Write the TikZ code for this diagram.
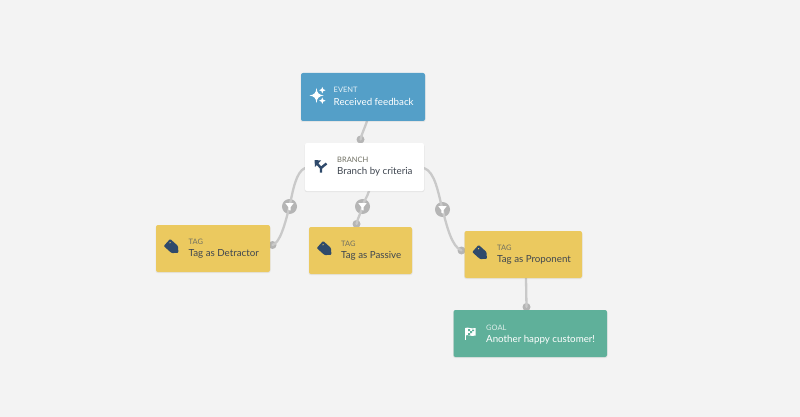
\documentclass[tikz,border=0pt]{standalone}
\usepackage{fontspec}
\setmainfont{Lato}
\definecolor{canvas}{HTML}{F3F3F3}
\definecolor{eventblue}{HTML}{549FC8}
\definecolor{tagyellow}{HTML}{EBC95F}
\definecolor{goalgreen}{HTML}{5FB09A}
\definecolor{wire}{HTML}{C9C9C9}
\definecolor{dotgrey}{HTML}{B5B5B5}
\definecolor{navy}{HTML}{2F4A6B}
\definecolor{ink}{HTML}{3F4650}
\definecolor{inksoft}{HTML}{6F6F62}
\tikzset{
  x=1pt,y=-1pt,
  card/.style={rounded corners=2pt,inner sep=0pt,fill=#1},
  wirepath/.style={draw=wire,line width=2.3pt,line cap=round},
  portdot/.style={circle,fill=dotgrey,minimum size=8pt,inner sep=0pt},
  filterdot/.style={circle,fill=dotgrey,minimum size=15pt,inner sep=0pt},
  kindtext/.style={anchor=west,inner sep=0pt,font=\fontsize{7.5}{9}\selectfont},
  nametext/.style={anchor=west,inner sep=0pt,font=\fontsize{9.75}{12}\selectfont},
}
% Rounded card given by its corners
\newcommand{\cardbox}[6]{%
  \fill[black,opacity=.06,rounded corners=2pt] (#3-.5,#4+1) rectangle (#5+.5,#6+1);
  \path[card=#2] (#3,#4) rectangle (#5,#6);
  \node[minimum width=#5pt-#3pt,minimum height=#6pt-#4pt,inner sep=0pt] (#1) at ({(#3+#5)/2},{(#4+#6)/2}) {};
}
% Price-tag icon centred on a point
\newcommand{\tagicon}[2]{%
  \begin{scope}[shift={(#1,#2)},rotate=-42]
    \fill[navy,rounded corners=1pt] (-7.5,-4.8) -- (3,-4.8) -- (8,0) -- (3,4.8) -- (-7.5,4.8) -- cycle;
    \fill[tagyellow] (-5,-2) circle (.8);
  \end{scope}
}
% Funnel glyph for a filter condition
\newcommand{\funnel}[2]{%
  \fill[white,shift={(#1,#2)}] (-4.2,-3.4) -- (4.2,-3.4) -- (1.1,.6) -- (1.1,4) -- (-1.1,3.2) -- (-1.1,.6) -- cycle;
}
\begin{document}
\begin{tikzpicture}
\useasboundingbox (0,0) rectangle (800,417);
\fill[canvas] (0,0) rectangle (800,417);

% Connector end points
\coordinate (evout) at (367,121);
\coordinate (brleft) at (305,168);
\coordinate (brmid) at (369,191);
\coordinate (brright) at (424,168);
\coordinate (propout) at (526,278);
\node[portdot] (dotbranch) at (360.5,139.5) {};
\node[portdot] (dotdet) at (272.5,245) {};
\node[portdot] (dotpas) at (356.5,224) {};
\node[portdot] (dotpro) at (461.5,250.5) {};
\node[portdot] (dotgoal) at (526.5,307) {};
\node[filterdot] (fdet) at (289.5,206.5) {};
\node[filterdot] (fpas) at (362.5,206.5) {};
\node[filterdot] (fpro) at (442.5,209.5) {};

% Connectors
\draw[wirepath] (evout) .. controls (364,130) and (362,133) .. (dotbranch.center);
\draw[wirepath] (brleft) .. controls (296,172) and (293,190) .. (fdet.center)
                .. controls (285,224) and (280,243) .. (dotdet.center);
\draw[wirepath] (brmid) .. controls (367,198) and (364,200) .. (fpas.center)
                .. controls (361,213) and (358,217) .. (dotpas.center);
\draw[wirepath] (brright) .. controls (435,172) and (438,192) .. (fpro.center)
                .. controls (447,227) and (452,247) .. (dotpro.center);
\draw[wirepath] (propout) -- (dotgoal.center);

% Cards
\cardbox{event}{eventblue}{301}{73}{425}{121}
\cardbox{branch}{white}{305}{143}{424}{191}
\cardbox{detractor}{tagyellow}{156}{225}{270}{272}
\cardbox{passive}{tagyellow}{309}{227}{412}{274}
\cardbox{proponent}{tagyellow}{464.5}{231}{582}{278}
\cardbox{goal}{goalgreen}{453.5}{310}{607}{357}

% Card labels
\node[kindtext,text=white!85!eventblue] (evk) at (333.5,89.6) {EVENT};
\node[nametext,text=white] (evn) at (333.5,101.8) {Received feedback};
\node[kindtext,text=inksoft] (brk) at (337,159.6) {BRANCH};
\node[nametext,text=ink] (brn) at (337,171.8) {Branch by criteria};
\node[kindtext,text=inksoft] (detk) at (188.5,241.6) {TAG};
\node[nametext,text=ink] (detn) at (188.5,254) {Tag as Detractor};
\node[kindtext,text=inksoft] (pask) at (341,243.6) {TAG};
\node[nametext,text=ink] (pasn) at (341,256) {Tag as Passive};
\node[kindtext,text=inksoft] (prok) at (497,247.6) {TAG};
\node[nametext,text=ink] (pron) at (497,259.8) {Tag as Proponent};
\node[kindtext,text=white!80!goalgreen] (goak) at (486,327.6) {GOAL};
\node[nametext,text=white] (goan) at (486,339.8) {Another happy customer!};

% Event icon: three sparkles
\fill[white] (316.5,88) .. controls (317.1,93) and (318.5,94.6) .. (323.5,95.5)
  .. controls (318.5,96.4) and (317.1,98) .. (316.5,103)
  .. controls (315.9,98) and (314.5,96.4) .. (309.5,95.5)
  .. controls (314.5,94.6) and (315.9,93) .. cycle;
\fill[white] (322.3,87) .. controls (322.6,89) and (323.3,89.7) .. (325.5,90.2)
  .. controls (323.3,90.7) and (322.6,91.4) .. (322.3,93.4)
  .. controls (322,91.4) and (321.3,90.7) .. (319.1,90.2)
  .. controls (321.3,89.7) and (322,89) .. cycle;
\fill[white] (322.3,97.5) .. controls (322.6,99.5) and (323.3,100.2) .. (325.5,100.7)
  .. controls (323.3,101.2) and (322.6,101.9) .. (322.3,103.9)
  .. controls (322,101.9) and (321.3,101.2) .. (319.1,100.7)
  .. controls (321.3,100.2) and (322,99.5) .. cycle;

% Branch icon: a forked arrow
\draw[navy,line width=2.4pt] (321,172.5) -- (321,168) -- (317,163.5);
\draw[navy,line width=2.4pt] (321,168) -- (326.5,163.5);
\fill[navy] (314.5,160) -- (321,160.5) -- (315,167) -- cycle;

% Tag icons
\tagicon{172.5}{247.5}
\tagicon{325.5}{249.5}
\tagicon{481}{253.5}

% Goal icon: a chequered flag
\draw[white,line width=1.2pt] (465.5,327.5) -- (465.5,339.5);
\fill[white] (465.5,328) .. controls (468,326.5) and (471,329.5) .. (475.5,328) -- (475.5,335.5)
  .. controls (471,337) and (468,334) .. (465.5,335.5) -- cycle;
\fill[goalgreen] (468,329) rectangle (470,331) (470,331) rectangle (472,333) (472,329.5) rectangle (474,331) (468,333) rectangle (470,335);

% Filter glyphs
\funnel{289.5}{206.5}
\funnel{362.5}{206.5}
\funnel{442.5}{209.5}
\end{tikzpicture}
\end{document}
